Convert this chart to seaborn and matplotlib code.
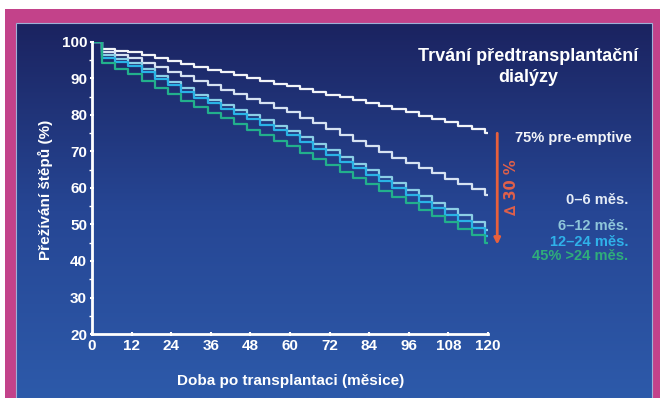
import numpy as np
import pandas as pd
import matplotlib
matplotlib.use("Agg")
import matplotlib.pyplot as plt
from matplotlib.patches import Rectangle
import seaborn as sns

# ---------------- data ----------------
months = [0, 3, 7, 11, 15, 19, 23, 27, 31, 35, 39, 43, 47, 51, 55, 59,
          63, 67, 71, 75, 79, 83, 87, 91, 95, 99, 103, 107, 111, 115, 119, 120]

pre_emptive = [100, 98.0, 97.6, 97.2, 96.5, 95.7, 94.8, 94.0, 93.2, 92.4, 91.7, 90.9,
               90.2, 89.4, 88.6, 87.9, 87.1, 86.4, 85.6, 84.8, 84.0, 83.3, 82.5,
               81.7, 80.8, 79.8, 78.9, 78.0, 77.1, 76.1, 75.0, 75.0]
m0_6 = [100, 97.3, 96.4, 95.5, 94.3, 93.1, 91.8, 90.6, 89.3, 88.1, 86.9, 85.7,
        84.5, 83.2, 82.0, 80.8, 79.3, 77.7, 76.1, 74.5, 73.0, 71.4, 69.8,
        68.2, 66.8, 65.4, 64.0, 62.6, 61.2, 59.8, 58.0, 58.0]
m6_12 = [100, 96.4, 95.3, 94.2, 92.6, 90.8, 89.1, 87.3, 85.6, 84.2, 82.8, 81.4,
         79.9, 78.5, 77.1, 75.7, 74.0, 72.1, 70.3, 68.5, 66.7, 64.9, 63.1,
         61.3, 59.5, 57.7, 56.0, 54.2, 52.5, 50.7, 48.5, 48.5]
m12_24 = [100, 95.7, 94.5, 93.3, 91.7, 89.9, 88.1, 86.3, 84.6, 83.2, 81.7, 80.2,
          78.8, 77.3, 75.8, 74.4, 72.6, 70.8, 69.0, 67.2, 65.4, 63.6, 61.8,
          60.0, 58.2, 56.3, 54.5, 52.7, 50.9, 49.1, 46.8, 46.8]
m24_plus = [100, 94.3, 92.7, 91.1, 89.3, 87.5, 85.7, 83.9, 82.1, 80.6, 79.1, 77.6,
            76.0, 74.5, 73.0, 71.4, 69.7, 68.0, 66.2, 64.5, 62.8, 61.0, 59.3,
            57.6, 55.9, 54.1, 52.4, 50.7, 48.9, 47.2, 45.0, 45.0]

groups = ["pre-emptive", "0–6 měs.", "6–12 měs.", "12–24 měs.", ">24 měs."]
series = [pre_emptive, m0_6, m6_12, m12_24, m24_plus]
line_colors = ["#f2f4f8", "#d6e2f2", "#8ccfe6", "#29b3e6", "#22b08c"]

x_ticks = [0, 12, 24, 36, 48, 60, 72, 84, 96, 108, 120]
y_ticks = [20, 30, 40, 50, 60, 70, 80, 90, 100]

title_text = "Trvání předtransplantační\ndialýzy"
x_label = "Doba po transplantaci (měsice)"
y_label = "Přežívání štěpů (%)"
end_labels = ["75% pre-emptive", "0–6 měs.", "6–12 měs.", "12–24 měs.", "45% >24 měs."]
end_label_colors = ["#f2f4f8", "#e4ecf6", "#8ec6da", "#2fb2ea", "#2fae7a"]
delta_text = "∆ 30 %"
delta_from, delta_to = 75.0, 44.5

df = pd.concat([pd.DataFrame({"month": months, "survival": s, "group": g})
                for g, s in zip(groups, series)], ignore_index=True)

# ---------------- figure ----------------
W, H = 669, 398
fig = plt.figure(figsize=(W / 100, H / 100), dpi=100)
fig.patch.set_facecolor("white")

def fx(px):
    return px / W

def fy(py):
    return 1 - py / H

# magenta frame
fig.patches.append(Rectangle((fx(5), 0), fx(660) - fx(5), fy(9), transform=fig.transFigure,
                             facecolor="#c3428a", edgecolor="none", zorder=0))
# gradient panel
bg = fig.add_axes([fx(16), 0, fx(652) - fx(16), fy(23)], zorder=0.5)
top = np.array([27, 35, 96]) / 255
mid = np.array([38, 70, 148]) / 255
bot = np.array([45, 90, 170]) / 255
t = np.linspace(0, 1, 256)[:, None]
grad = np.where(t < 0.5, top + (mid - top) * (t / 0.5), mid + (bot - mid) * ((t - 0.5) / 0.5))
bg.imshow(grad[:, None, :], aspect="auto", extent=[0, 1, 0, 1], origin="upper")
bg.set_axis_off()
fig.patches.append(Rectangle((fx(16), -0.01), fx(652) - fx(16), fy(23) + 0.01,
                             transform=fig.transFigure, facecolor="none",
                             edgecolor="#9fb0d6", linewidth=0.8, zorder=0.6))

ax = fig.add_axes([fx(92), fy(334), fx(488) - fx(92), fy(42) - fy(334)], zorder=1)
ax.set_facecolor("none")

sns.lineplot(data=df, x="month", y="survival", hue="group", hue_order=groups,
             palette=line_colors, drawstyle="steps-post", linewidth=1.6,
             legend=False, ax=ax, sort=False, estimator=None)

ax.set_xlim(0, 120)
ax.set_ylim(20, 100)
ax.set_xticks(x_ticks)
ax.set_yticks(y_ticks)
ax.set_yticks(np.arange(25, 100, 10), minor=True)
for s in ["top", "right"]:
    ax.spines[s].set_visible(False)
for s in ["left", "bottom"]:
    ax.spines[s].set_color("white")
    ax.spines[s].set_linewidth(2)
    ax.spines[s].set_clip_on(False)

font = ["Liberation Sans", "DejaVu Sans"]
ax.tick_params(axis="both", which="major", colors="white", length=3, width=1.5,
               direction="inout", pad=2)
ax.tick_params(axis="y", which="minor", colors="white", length=2, width=1, direction="out")
for lab in ax.get_xticklabels() + ax.get_yticklabels():
    lab.set_fontfamily(font)
    lab.set_fontweight("bold")
    lab.set_fontsize(11)
    lab.set_color("white")
ax.set_xlabel("")
ax.set_ylabel("")

fig.text(fx(291), fy(381), x_label, ha="center", va="center", color="white",
         fontsize=11, fontweight="bold", family=font)
fig.text(fx(45), fy(190), y_label, ha="center", va="center", rotation=90, color="white",
         fontsize=11, fontweight="bold", family=font)
fig.text(fx(528), fy(67), title_text, ha="center", va="center", color="white",
         fontsize=13, fontweight="bold", family=font, linespacing=1.25,
         multialignment="center")

label_pos = [(515, 138, "left"), (628, 200, "right"), (628, 226, "right"),
             (628, 242, "right"), (628, 256, "right")]
for (px, py, ha), txt, c in zip(label_pos, end_labels, end_label_colors):
    xx = fx(px) if ha == "left" else fx(px)
    fig.text(xx, fy(py), txt, ha=ha, va="center", color=c, fontsize=10.5,
             fontweight="bold", family=font)

ax.annotate("", xy=(122.8, delta_to), xytext=(122.8, delta_from),
            arrowprops=dict(arrowstyle="-|>", color="#e8603c", lw=2,
                            mutation_scale=9, shrinkA=0, shrinkB=0),
            annotation_clip=False)
fig.text(fx(512), fy(187), delta_text, ha="center", va="center", rotation=90,
         color="#e0604a", fontsize=10.5, fontweight="bold",
         family=["DejaVu Sans"])

fig.savefig("out.png", dpi=100, facecolor=fig.get_facecolor())
